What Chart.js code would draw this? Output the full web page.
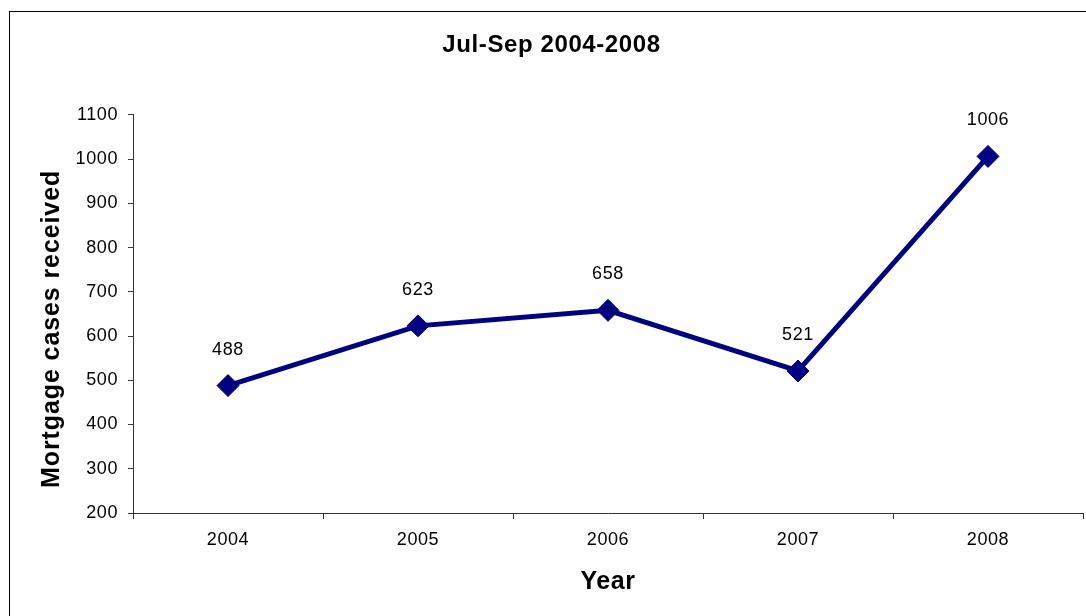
<!DOCTYPE html>
<html>
<head>
<meta charset="utf-8">
<script src="https://cdn.jsdelivr.net/npm/chart.js@4/dist/chart.umd.min.js"></script>
<style>
  html, body { margin: 0; padding: 0; background: #fff; overflow: hidden; }
  #wrap { position: absolute; left: 0; top: 0; width: 1086px; height: 616px; }
  #frame { position: absolute; left: 9px; top: 11px; width: 1200px; height: 700px;
           border-top: 1px solid #000; border-left: 1px solid #000; pointer-events: none; }
</style>
</head>
<body>
<div id="wrap"><canvas id="chart"></canvas></div>
<div id="frame"></div>
<script>
// data
const years = ['2004', '2005', '2006', '2007', '2008'];
const mortgageCases = [488, 623, 658, 521, 1006];
const yTicks = [200, 300, 400, 500, 600, 700, 800, 900, 1000, 1100];

const chartTitle = 'Jul-Sep 2004-2008';
const yTitle = 'Mortgage cases received';
const xTitle = 'Year';

const navy = '#000080';
const axisColor = '#333';
const FONT = "'Liberation Sans', Arial, sans-serif";

// the original text is a bit wider than plain Arial
const spacing = {
  id: 'spacing',
  beforeLayout(chart) { chart.ctx.letterSpacing = '0.6px'; },
  beforeDraw(chart) { chart.ctx.letterSpacing = '0.6px'; }
};

// value labels above each point
const pointLabels = {
  id: 'pointLabels',
  afterDatasetsDraw(chart) {
    const ctx = chart.ctx;
    const meta = chart.getDatasetMeta(0);
    ctx.save();
    ctx.font = `18px ${FONT}`;
    ctx.fillStyle = '#000';
    ctx.textAlign = 'center';
    ctx.textBaseline = 'middle';
    meta.data.forEach((pt, i) => {
      ctx.fillText(String(mortgageCases[i]), pt.x, pt.y - 36);
    });
    ctx.restore();
  }
};

// rotated y axis title, sits a little below the centre like the original
const yAxisTitle = {
  id: 'yAxisTitle',
  afterDraw(chart) {
    const ctx = chart.ctx;
    const area = chart.chartArea;
    ctx.save();
    ctx.letterSpacing = '0.9px';
    ctx.translate(52, (area.top + area.bottom) / 2 + 15);
    ctx.rotate(-Math.PI / 2);
    ctx.font = `bold 25px ${FONT}`;
    ctx.fillStyle = '#000';
    ctx.textAlign = 'center';
    ctx.textBaseline = 'middle';
    ctx.fillText(yTitle, 0, 0);
    ctx.restore();
  }
};

const ctx = document.getElementById('chart').getContext('2d');
new Chart(ctx, {
  type: 'line',
  data: {
    labels: years,
    datasets: [{
      data: mortgageCases,
      borderColor: navy,
      backgroundColor: navy,
      borderWidth: 5,
      pointStyle: 'rectRot',
      pointRadius: 11,
      pointHoverRadius: 11,
      pointBorderWidth: 1,
      pointBackgroundColor: navy,
      pointBorderColor: navy,
      tension: 0,
      clip: false
    }]
  },
  options: {
    responsive: true,
    maintainAspectRatio: false,
    animation: false,
    // left padding shifts the title centre right; y scale width makes up for it
    layout: { autoPadding: false, padding: { left: 20, top: 0, right: 3, bottom: 0 } },
    plugins: {
      legend: { display: false },
      tooltip: { enabled: false },
      title: {
        display: true,
        text: chartTitle,
        color: '#000',
        font: { family: FONT, size: 24, weight: 'bold' },
        padding: { top: 31, bottom: 55 }
      }
    },
    scales: {
      x: {
        offset: true,
        grid: {
          display: true,
          offset: true,
          drawOnChartArea: false,
          drawTicks: true,
          tickLength: 6,
          color: axisColor
        },
        border: { display: true, color: axisColor, width: 1 },
        ticks: {
          color: '#000',
          font: { family: FONT, size: 18 },
          padding: 10,
          maxRotation: 0
        },
        title: {
          display: true,
          text: xTitle,
          color: '#000',
          font: { family: FONT, size: 25, weight: 'bold' },
          padding: { top: 0, bottom: 19 }
        },
        afterFit(scale) { scale.height = 103; }
      },
      y: {
        min: yTicks[0],
        max: yTicks[yTicks.length - 1],
        afterBuildTicks(scale) { scale.ticks = yTicks.map(v => ({ value: v })); },
        grid: {
          display: true,
          drawOnChartArea: false,
          drawTicks: true,
          tickLength: 5,
          color: axisColor
        },
        border: { display: true, color: axisColor, width: 1 },
        ticks: {
          color: '#000',
          font: { family: FONT, size: 18 },
          padding: 10,
          callback: v => String(v)
        },
        afterFit(scale) { scale.width = 113; }
      }
    }
  },
  plugins: [spacing, pointLabels, yAxisTitle]
});
</script>
</body>
</html>
